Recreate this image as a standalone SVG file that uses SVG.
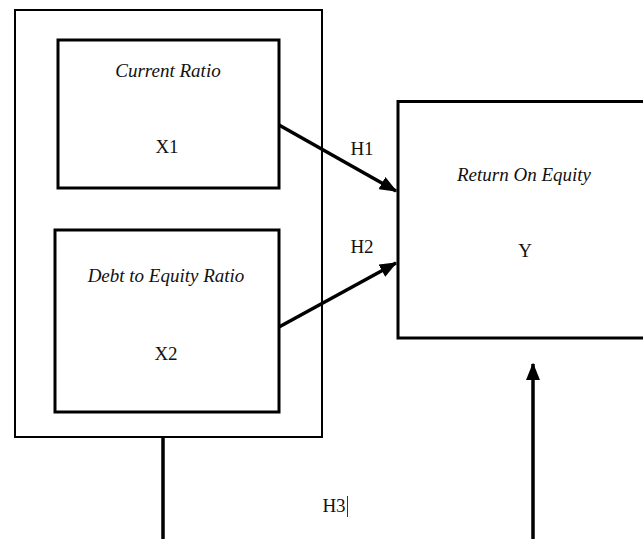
<svg xmlns="http://www.w3.org/2000/svg" width="643" height="539" viewBox="0 0 643 539">
<style>
.t{font-family:"Liberation Serif","Times New Roman","DejaVu Serif",serif;font-size:19px;fill:#111;text-anchor:middle}
.i{font-style:italic}
.box{fill:#fff;stroke:#000;stroke-width:3}
.outer{fill:#fff;stroke:#000;stroke-width:2}
.con{stroke:#000;stroke-width:3.5;fill:none}
</style>
<defs>
<marker id="ah" markerWidth="5" markerHeight="4" refX="4.6" refY="2" orient="auto" markerUnits="strokeWidth">
<path d="M0,0 L5,2 L0,4 Z" fill="#000"/>
</marker>
</defs>
<rect width="643" height="539" fill="#fff"/>
<g id="group-x">
<rect class="outer" x="15" y="10" width="307" height="427"/>
</g>
<g id="current-ratio">
<rect class="box" x="58" y="40" width="221" height="148"/>
<text class="t i" x="168" y="77">Current Ratio</text>
<text class="t" x="167" y="153">X1</text>
</g>
<g id="der">
<rect class="box" x="55" y="230" width="224" height="182"/>
<text class="t i" x="166" y="282">Debt to Equity Ratio</text>
<text class="t" x="166" y="360">X2</text>
</g>
<g id="roe">
<rect class="box" x="398" y="101.5" width="260" height="236.5"/>
<text class="t i" x="524" y="181">Return On Equity</text>
<text class="t" x="525" y="257">Y</text>
</g>
<g id="connectors">
<line class="con" x1="279" y1="125" x2="396" y2="191" marker-end="url(#ah)"/>
<line class="con" x1="279" y1="327" x2="396" y2="263" marker-end="url(#ah)"/>
<line class="con" x1="163" y1="437" x2="163" y2="539"/>
<line class="con" x1="533" y1="539" x2="533" y2="364" marker-end="url(#ah)"/>
<text class="t" x="362" y="155">H1</text>
<text class="t" x="362" y="253">H2</text>
<text class="t" x="334" y="512">H3</text>
<line x1="347.5" y1="496" x2="347.5" y2="517" stroke="#333" stroke-width="1"/>
</g>
</svg>
